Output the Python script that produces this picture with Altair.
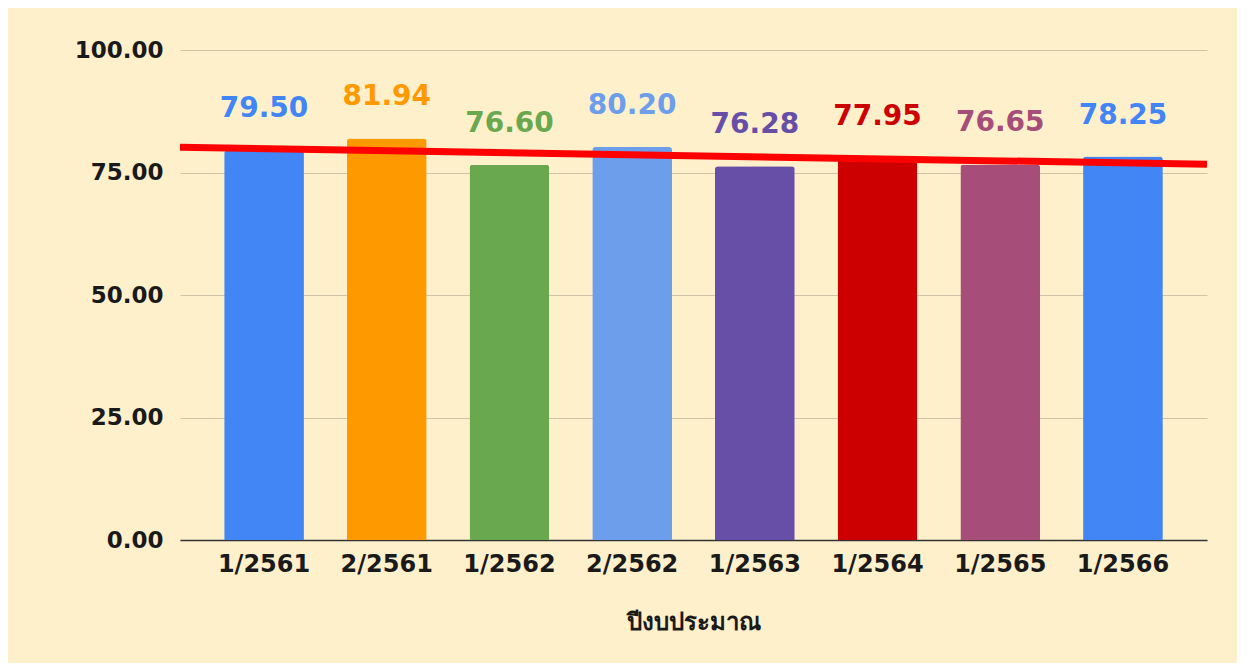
import altair as alt
import pandas as pd

categories = ["1/2561", "2/2561", "1/2562", "2/2562", "1/2563", "1/2564", "1/2565", "1/2566"]
values = [79.50, 81.94, 76.60, 80.20, 76.28, 77.95, 76.65, 78.25]
colors = ["#4285F4", "#FF9900", "#6AA84F", "#6D9EEB", "#674EA7", "#CC0000", "#A64D79", "#4285F4"]
y_ticks = [0, 25, 50, 75, 100]

df = pd.DataFrame({
    "cat": categories,
    "value": values,
    "color": colors,
    "idx": list(range(len(categories))),
})

FONT = "DejaVu Sans"
PI, PO = 0.35, 0.36
edge = PO + (1 - PI) / 2
n = len(categories)

base = alt.Chart(df)

x_band = alt.X(
    "cat:N",
    sort=categories,
    scale=alt.Scale(paddingInner=PI, paddingOuter=PO),
    axis=alt.Axis(
        title="ปีงบประมาณ",
        labelAngle=0,
        labelFont=FONT,
        labelFontSize=24,
        labelFontWeight="bold",
        labelColor="#1a1a1a",
        labelPadding=12,
        ticks=False,
        domain=True,
        domainColor="#333333",
        domainWidth=1.5,
        titleFont=FONT,
        titleFontSize=24,
        titleFontWeight="bold",
        titleColor="#1a1a1a",
        titlePadding=34,
        grid=False,
    ),
)

y_enc = alt.Y(
    "value:Q",
    scale=alt.Scale(domain=[0, 100], nice=False),
    axis=alt.Axis(
        title=None,
        values=y_ticks,
        format=".2f",
        labelFont=FONT,
        labelFontSize=23,
        labelFontWeight="bold",
        labelColor="#1a1a1a",
        labelPadding=17,
        ticks=False,
        domain=False,
        grid=True,
        gridColor="#CFC4A8",
        gridWidth=1.2,
        minExtent=150,
        maxExtent=150,
    ),
)

bars = base.mark_bar(cornerRadiusTopLeft=3, cornerRadiusTopRight=3).encode(
    x=x_band,
    y=y_enc,
    color=alt.Color("color:N", scale=None, legend=None),
)

labels = base.mark_text(
    baseline="bottom", dy=-27, font=FONT, fontSize=28, fontWeight="bold"
).encode(
    x=alt.X("cat:N", sort=categories),
    y=alt.Y("value:Q"),
    text=alt.Text("value:Q", format=".2f"),
    color=alt.Color("color:N", scale=None, legend=None),
)

trend = base.transform_regression(
    "idx", "value", extent=[-edge, n - 1 + edge]
).mark_line(color="#FF0000", strokeWidth=7, clip=False).encode(
    x=alt.X("idx:Q", scale=alt.Scale(domain=[-edge, n - 1 + edge], nice=False, zero=False), axis=None),
    y=alt.Y("value:Q"),
)

chart = (
    alt.layer(alt.layer(bars, labels), trend)
    .resolve_scale(x="independent")
    .properties(
        width=1027,
        height=490,
        background="#FFF0CC",
        padding={"left": 22, "top": 31, "right": 16, "bottom": 29},
    )
    .configure_view(stroke=None)
)

chart.save("out.html", embed_options={"renderer": "svg", "actions": False})
